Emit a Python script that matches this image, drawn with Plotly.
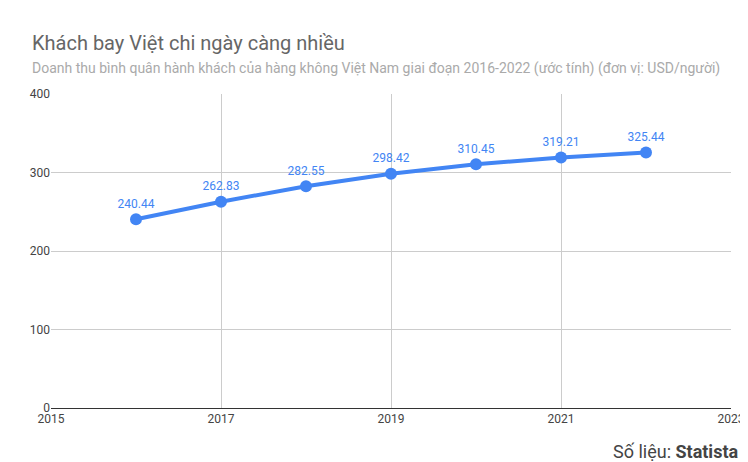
import plotly.graph_objects as go

nam = [2016, 2017, 2018, 2019, 2020, 2021, 2022]
doanh_thu = [240.44, 262.83, 282.55, 298.42, 310.45, 319.21, 325.44]
nhan = ['240.44', '262.83', '282.55', '298.42', '310.45', '319.21', '325.44']

fig = go.Figure()
fig.add_trace(go.Scatter(x=nam, y=doanh_thu, mode='lines+markers+text',
                         text=nhan, textposition='top center',
                         textfont=dict(color='#4285F4', size=12),
                         line=dict(color='#4285F4', width=4),
                         marker=dict(size=12, color='#4285F4'),
                         cliponaxis=False))

fig.update_layout(
    width=748, height=462,
    paper_bgcolor='white', plot_bgcolor='white',
    font=dict(family='Roboto', color='#555'),
    margin=dict(l=43, r=25, t=86, b=62, autoexpand=False),
    showlegend=False,
    xaxis=dict(range=[2015, 2023], dtick=2, tick0=2015, showgrid=True,
               gridcolor='#ccc', linecolor='#333', showline=True, automargin=False,
               ticks='', tickfont=dict(size=12, color='#444'), zeroline=False),
    yaxis=dict(range=[0, 400], dtick=100, showgrid=True, gridcolor='#ccc', automargin=False,
               tickfont=dict(size=12, color='#444'), zeroline=False, ticks=''),
    annotations=[
        dict(text='Khách bay Việt chi ngày càng nhiều', x=22, y=35,
             xanchor='left', yanchor='middle', showarrow=False,
             font=dict(size=20, color='#666')),
        dict(text='Doanh thu bình quân hành khách của hàng không Việt Nam giai đoạn 2016-2022 (ước tính) (đơn vị: USD/người)',
             x=22, y=60, showarrow=False, xanchor='left', yanchor='middle',
             font=dict(size=14, color='#aaa')),
        dict(text='Số liệu: <b>Statista</b>', x=732, y=443, showarrow=False,
             xanchor='right', yanchor='middle', font=dict(size=18, color='#444')),
    ],
)
# chuyển tọa độ chú thích sang pixel
for a in fig.layout.annotations:
    a.xref = 'paper'; a.yref = 'paper'
    a.x = (a.x - 43) / (748 - 43 - 25)
    a.y = 1 - (a.y - 86) / (462 - 86 - 62)

fig.write_html('out.html')
